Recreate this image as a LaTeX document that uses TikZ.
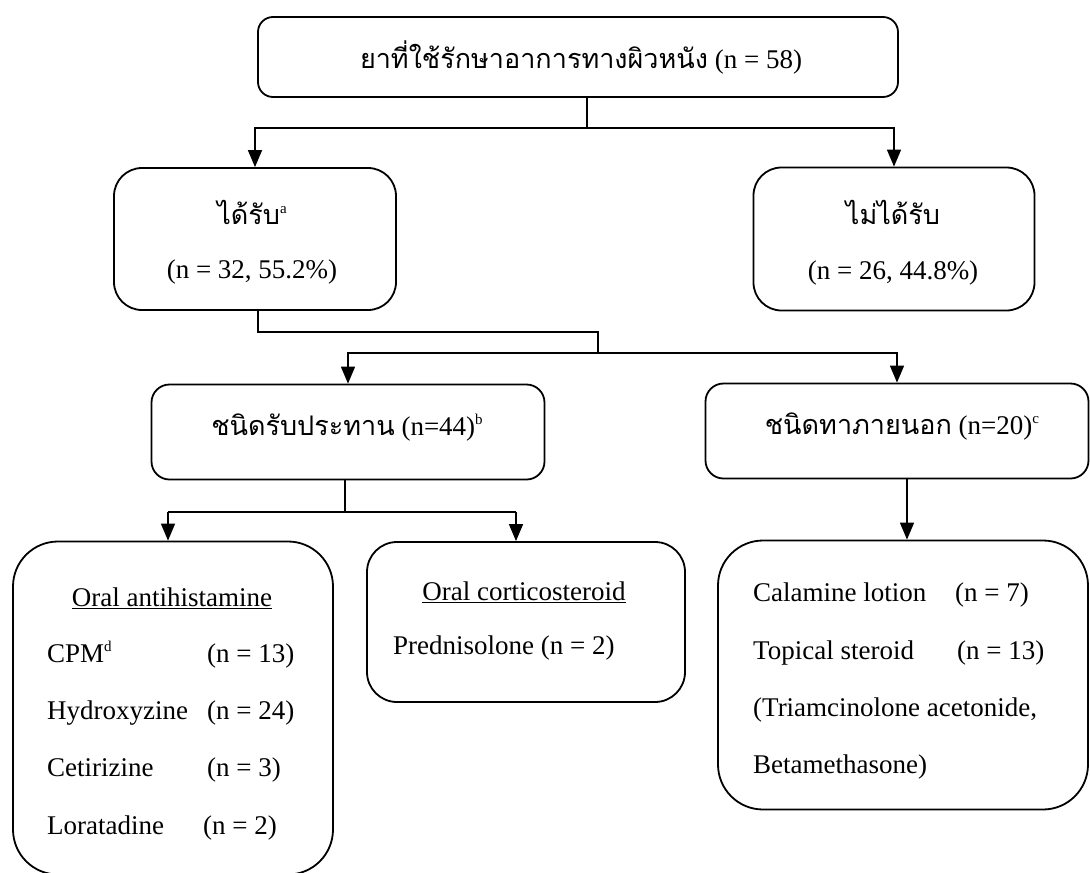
\documentclass[tikz,border=0pt]{standalone}
\usepackage{fontspec}
\setmainfont{Liberation Serif}
\newfontfamily\thai[Script=Thai]{Loma}
\usetikzlibrary{arrows.meta}

% small raised footnote letter
\newcommand{\fnmark}[1]{\raisebox{11pt}{\fontsize{15}{15}\selectfont #1}}

\tikzset{
  box/.style={draw=black, line width=1.8pt, inner sep=0pt, rounded corners=#1},
  box/.default=18pt,
  link/.style={line width=1.5pt},
  arr/.style={link, -{Triangle[length=17pt,width=14pt]}},
  txt/.style={inner sep=0pt, font=\fontsize{27}{32}\selectfont},
}

\begin{document}
\begin{tikzpicture}[x=1pt,y=-1pt]
\useasboundingbox (0,0) rectangle (1090,873);

% ---- boxes ----
\node[box=15pt, minimum width=640pt, minimum height=80pt]  (top)  at (578,57) {};
\node[box=28pt, minimum width=282pt, minimum height=142pt] (recv) at (255,239) {};
\node[box=28pt, minimum width=281pt, minimum height=143pt] (norecv) at (894,239) {};
\node[box=18pt, minimum width=393pt, minimum height=95pt]  (oral) at (348,432) {};
\node[box=18pt, minimum width=383pt, minimum height=95pt]  (topi) at (897,431) {};
\node[box=45pt, minimum width=320pt, minimum height=333pt] (anti) at (173,708) {};
\node[box=30pt, minimum width=318pt, minimum height=160pt] (cort) at (526,622) {};
\node[box=45pt, minimum width=370pt, minimum height=269pt] (topl) at (903,675) {};

% ---- texts ----
\node[txt] (tTop) at (581,57) {{\thai ยาที่ใช้รักษาอาการทางผิวหนัง} (n = 58)};
\node[txt] (tRecvA) at (252,212) {{\thai ได้รับ}\fnmark{a}};
\node[txt] (tRecvB) at (252,272) {(n = 32, 55.2\%)};
\node[txt] (tNoA) at (893,212) {{\thai ไม่ได้รับ}};
\node[txt] (tNoB) at (893,273) {(n = 26, 44.8\%)};
\node[txt] (tOral) at (347,428) {{\thai ชนิดรับประทาน} (n=44)\fnmark{b}};
\node[txt] (tTopi) at (902,427) {{\thai ชนิดทาภายนอก} (n=20)\fnmark{c}};

\node[txt] (aHead) at (172,598) {\underline{Oral antihistamine}};
\node[txt, anchor=west] (a1) at (47,655) {\makebox[160pt][l]{CPM\fnmark{d}}(n = 13)};
\node[txt, anchor=west] (a2) at (47,713) {\makebox[160pt][l]{Hydroxyzine}(n = 24)};
\node[txt, anchor=west] (a3) at (47,770) {\makebox[160pt][l]{Cetirizine}(n = 3)};
\node[txt, anchor=west] (a4) at (47,828) {\makebox[156pt][l]{Loratadine}(n = 2)};

\node[txt] (cHead) at (524,592) {\underline{Oral corticosteroid}};
\node[txt, anchor=west] (c1) at (393,648) {Prednisolone (n = 2)};

\node[txt, anchor=west] (t1) at (753,595) {\makebox[202pt][l]{Calamine lotion}(n = 7)};
\node[txt, anchor=west] (t2) at (753,653) {\makebox[204pt][l]{Topical steroid}(n = 13)};
\node[txt, anchor=west] (t3) at (753,710) {(Triamcinolone acetonide,};
\node[txt, anchor=west] (t4) at (753,767) {Betamethasone)};

% ---- connectors ----
\coordinate (j1) at (587,128);
\draw[link] (j1 |- top.south) -- (j1);
\draw[arr] (j1) -| (recv.north);
\draw[arr] (j1) -| (norecv.north);

\coordinate (j2) at (258,332);
\coordinate (j3) at (598,332);
\coordinate (j4) at (598,353);
\draw[link] (j2 |- recv.south) -- (j2) -- (j3) -- (j4);
\draw[arr] (j4) -| (oral.north);
\draw[arr] (j4) -| (topi.north);

\coordinate (j5) at (345,512);
\coordinate (aIn) at (168,512);
\coordinate (cIn) at (516,512);
\draw[link] (j5 |- oral.south) -- (j5);
\draw[link] (aIn) -- (cIn);
\draw[arr] (aIn) -- (aIn |- anti.north);
\draw[arr] (cIn) -- (cIn |- cort.north);

\coordinate (j6) at (907,480);
\draw[arr] (j6 |- topi.south) -- (j6 |- topl.north);
\end{tikzpicture}
\end{document}
